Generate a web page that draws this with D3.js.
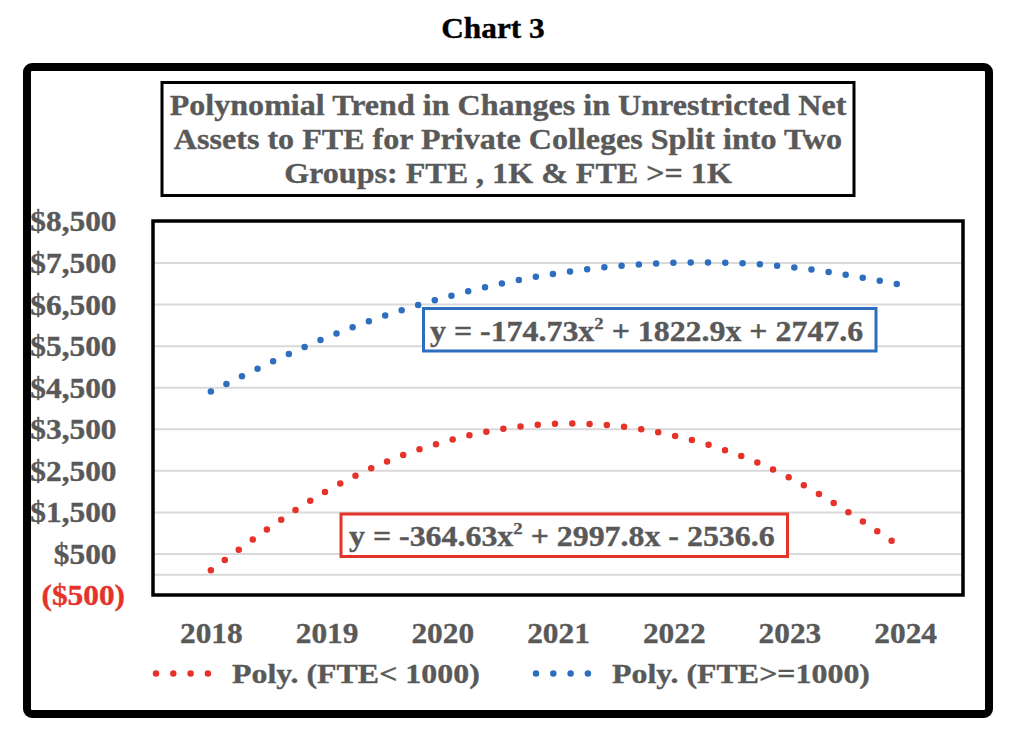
<!DOCTYPE html>
<html>
<head>
<meta charset="utf-8">
<script src="https://cdn.jsdelivr.net/npm/d3@7"></script>
<style>
  html, body { margin: 0; padding: 0; background: #fff; }
  svg { display: block; }
  text { font-family: "Liberation Serif", "Times New Roman", serif; font-weight: bold; }
</style>
</head>
<body>
<svg id="chart" width="1024" height="735"></svg>
<script>
// ---- data ----
const years = [2018, 2019, 2020, 2021, 2022, 2023, 2024];
const fteUnder1000 = [97, 2001, 3175, 3621, 3337, 2324, 581];
const fteOver1000 = [4396, 5695, 6644, 7244, 7494, 7395, 6946];
const yTicks = [-500, 500, 1500, 2500, 3500, 4500, 5500, 6500, 7500, 8500];
const gridValues = [0, 500, 1500, 2500, 3500, 4500, 5500, 6500, 7500];
const seriesNames = ["Poly. (FTE< 1000)", "Poly. (FTE>=1000)"];
const equations = ["y = -364.63x", "2", " + 2997.8x - 2536.6", "y = -174.73x", "2", " + 1822.9x + 2747.6"];
const chartLabel = "Chart 3";
const titleLines = [
  "Polynomial Trend in Changes in Unrestricted Net",
  "Assets to FTE for Private Colleges Split into Two",
  "Groups: FTE , 1K & FTE >= 1K"
];

// ---- styles ----
const RED = "#E5332A", BLUE = "#2E6EBF", GREY = "#595959", GRID = "#D9D9D9";
const SX = 1.12;

const svg = d3.select("#chart");
const plot = { left: 153, right: 963, top: 221, bottom: 595 };

const x = d3.scalePoint().domain(years).range([plot.left, plot.right]).padding(0.5);
const y = d3.scaleLinear().domain([-500, 8500]).range([plot.bottom, plot.top]);

function txt(parent, px, py, str, size, anchor, fill, sx) {
  return parent.append("text")
    .attr("transform", `translate(${px},${py}) scale(${sx || SX},1)`)
    .attr("text-anchor", anchor || "start")
    .attr("font-size", size)
    .attr("fill", fill || GREY)
    .attr("stroke", fill || GREY)
    .attr("stroke-width", 0.35)
    .text(str);
}

// chart number heading
txt(svg, 493, 38, chartLabel, 29, "middle", "#000", 1.08);

// outer frame
svg.append("rect").attr("x", 27).attr("y", 67).attr("width", 962).attr("height", 647)
  .attr("rx", 5).attr("fill", "none").attr("stroke", "#000").attr("stroke-width", 8);

// title box
svg.append("rect").attr("x", 162).attr("y", 82.5).attr("width", 692).attr("height", 113)
  .attr("fill", "#fff").attr("stroke", "#000").attr("stroke-width", 3);
const titleBase = [115, 149, 183];
titleLines.forEach((t, i) => txt(svg, 508, titleBase[i], t, 30, "middle", GREY, 1.07));

// gridlines
const grid = svg.append("g").attr("transform", `translate(${plot.left},0)`)
  .call(d3.axisLeft(y).tickValues(gridValues).tickSize(-(plot.right - plot.left)).tickFormat(""));
grid.select(".domain").remove();
grid.selectAll(".tick line").attr("stroke", GRID).attr("stroke-width", 2);

// plot frame
svg.append("rect").attr("x", plot.left).attr("y", plot.top)
  .attr("width", plot.right - plot.left).attr("height", plot.bottom - plot.top)
  .attr("fill", "none").attr("stroke", "#000").attr("stroke-width", 3.5);

// y axis labels
const fmt = v => v < 0 ? "($" + d3.format(",")(-v) + ")" : "$" + d3.format(",")(v);
const yAxis = svg.append("g").attr("transform", "translate(125,0)")
  .call(d3.axisLeft(y).tickValues(yTicks).tickSize(0).tickPadding(0).tickFormat(fmt));
yAxis.select(".domain").remove();
yAxis.selectAll(".tick text")
  .attr("font-family", null)
  .attr("font-size", 28.5)
  .attr("fill", d => d < 0 ? RED : GREY)
  .attr("stroke", d => d < 0 ? RED : GREY)
  .attr("stroke-width", 0.35)
  .attr("x", d => d < 0 ? 0 : -8.5 / 1.1)
  .attr("dy", "0.35em")
  .attr("transform", "scale(1.1,1)");

// x axis labels
const xAxis = svg.append("g").attr("transform", "translate(0,643)")
  .call(d3.axisBottom(x).tickSize(0).tickPadding(0));
xAxis.select(".domain").remove();
xAxis.selectAll(".tick text")
  .attr("font-family", null)
  .attr("font-size", 28.5)
  .attr("fill", GREY)
  .attr("stroke", GREY)
  .attr("stroke-width", 0.35)
  .attr("dy", 0)
  .attr("y", 0)
  .attr("transform", "scale(1.1,1)");

// trend lines (dotted)
const line = d3.line().x((d, i) => x(years[i])).y(d => y(d)).curve(d3.curveNatural);
function dotted(path, color) {
  return path.attr("fill", "none").attr("stroke", color).attr("stroke-width", 6.5)
    .attr("stroke-linecap", "round").attr("stroke-dasharray", "0 17.3");
}
dotted(svg.append("path").attr("d", line(fteOver1000)), BLUE);
dotted(svg.append("path").attr("d", line(fteUnder1000)), RED);

// equation labels
function eqBox(bx, by, bw, bh, tx, ty, parts, color) {
  svg.append("rect").attr("x", bx).attr("y", by).attr("width", bw).attr("height", bh)
    .attr("fill", "#fff").attr("stroke", color).attr("stroke-width", 3);
  const t = txt(svg, tx, ty, "", 29, "start", GREY, 1.1);
  t.append("tspan").text(parts[0]);
  t.append("tspan").attr("font-size", 17).attr("dy", -12).text(parts[1]);
  t.append("tspan").attr("dy", 12).text(parts[2]);
}
eqBox(423.5, 308.5, 452.5, 42.5, 430, 341, equations.slice(3, 6), BLUE);
eqBox(341, 514, 446.5, 42.5, 349, 546, equations.slice(0, 3), RED);

// legend
const legend = [
  { name: seriesNames[0], color: RED, x0: 156, tx: 232 },
  { name: seriesNames[1], color: BLUE, x0: 536, tx: 612 }
];
legend.forEach(l => {
  dotted(svg.append("path").attr("d", `M${l.x0},673.5H${l.x0 + 52}`), l.color);
  txt(svg, l.tx, 683, l.name, 28, "start", GREY, 1.14);
});
</script>
</body>
</html>
